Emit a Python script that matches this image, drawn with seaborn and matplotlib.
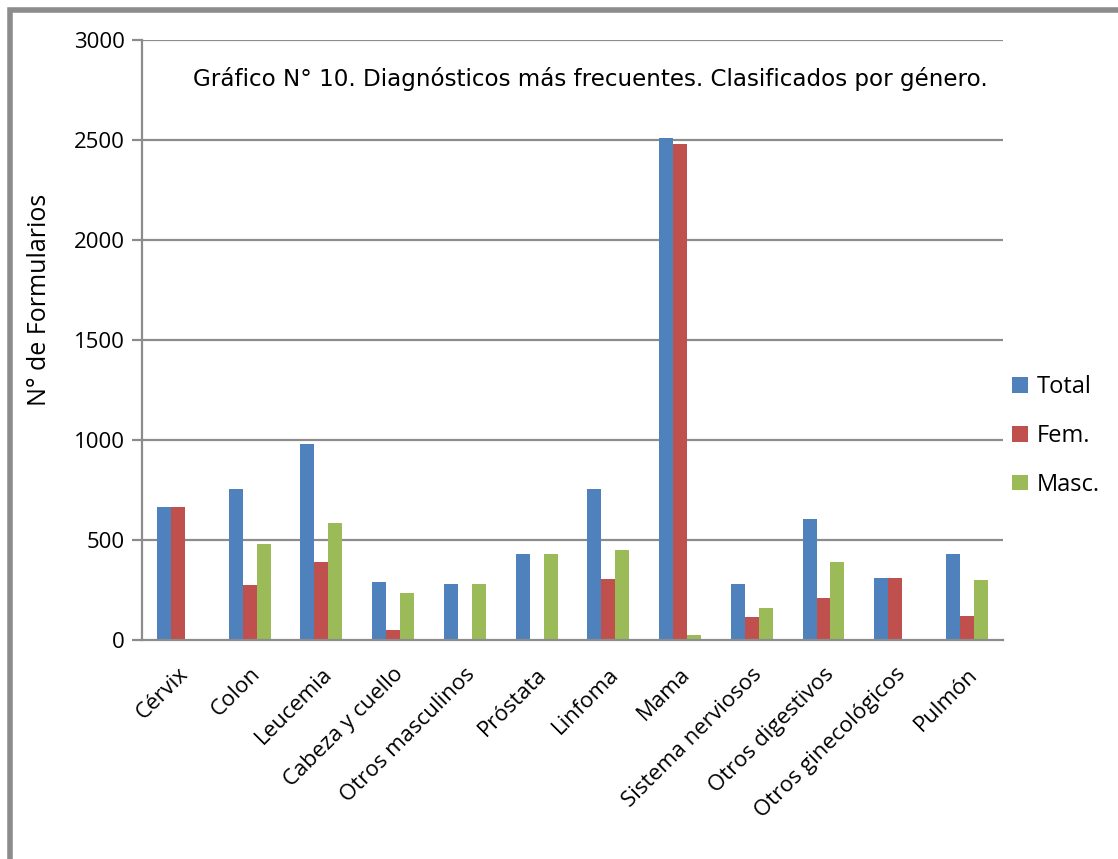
import numpy as np
import pandas as pd
import seaborn as sns
import matplotlib.pyplot as plt
from matplotlib.patches import Rectangle

# datos
categorias = ["Cérvix", "Colon", "Leucemia", "Cabeza y cuello", "Otros masculinos",
              "Próstata", "Linfoma", "Mama", "Sistema nerviosos", "Otros digestivos",
              "Otros ginecológicos", "Pulmón"]
total = [663, 757, 978, 288, 280, 428, 755, 2508, 278, 603, 310, 428]
fem = [663, 275, 392, 48, 0, 0, 303, 2482, 116, 210, 310, 120]
masc = [0, 478, 583, 237, 280, 428, 450, 23, 159, 390, 0, 300]
series = ["Total", "Fem.", "Masc."]
colores = ["#4F81BD", "#C0504D", "#9BBB59"]
y_ticks = [0, 500, 1000, 1500, 2000, 2500, 3000]

df = pd.DataFrame({
    "Diagnostico": categorias * 3,
    "Serie": [series[0]] * 12 + [series[1]] * 12 + [series[2]] * 12,
    "Valor": total + fem + masc,
})

sns.set_style("white")
plt.rcParams['font.family'] = ['Open Sans', 'DejaVu Sans']
plt.rcParams['text.color'] = 'black'
plt.rcParams['xtick.color'] = 'black'
plt.rcParams['ytick.color'] = 'black'
plt.rcParams['axes.labelcolor'] = 'black'

fig = plt.figure(figsize=(11.18, 8.59), dpi=100)
ax = fig.add_axes([0.127, 0.2549, 0.77, 0.6985])

sns.barplot(data=df, x="Diagnostico", y="Valor", hue="Serie", palette=colores,
            width=0.585, gap=0, linewidth=0, saturation=1, ax=ax, legend=True)

ax.set_ylim(0, 3000)
ax.set_xlim(-0.5, 11.5)
ax.set_yticks(y_ticks)
ax.set_yticklabels([str(v) for v in y_ticks], fontsize=16)
for v in y_ticks[1:]:
    ax.axhline(v, color="#8c8c8c", lw=1.6, zorder=0)

# marcas del eje x entre categorias
ax.set_xticks(np.arange(12))
ax.set_xticklabels(categorias, rotation=45, ha="right", rotation_mode="anchor", fontsize=16)
ax.set_xticks(np.arange(-0.5, 12, 1), minor=True)
ax.tick_params(axis="x", which="major", length=0, pad=17)
ax.tick_params(axis="x", which="minor", length=7, width=1.6, color="#8c8c8c", direction="out")
ax.tick_params(axis="y", length=7, width=1.6, color="#8c8c8c", labelcolor="black",
               direction="out", left=True, pad=5.5)

for s in ["top", "right"]:
    ax.spines[s].set_visible(False)
for s in ["left", "bottom"]:
    ax.spines[s].set_color("#8c8c8c")
    ax.spines[s].set_linewidth(1.6)

ax.set_xlabel("")
ax.set_ylabel("N° de Formularios", fontsize=18)
ax.yaxis.set_label_coords(-0.104, 0.567)

ax.text(0.982, 0.955, "Gráfico N° 10. Diagnósticos más frecuentes. Clasificados por género.",
        transform=ax.transAxes, ha="right", va="top", fontsize=16.6, family="DejaVu Sans")

ax.legend(loc="center left", bbox_to_anchor=(1.0, 0.34), borderaxespad=0, frameon=False,
          fontsize=17, handlelength=0.65, handleheight=0.65, handletextpad=0.4,
          labelspacing=1.05)

# marco gris del grafico
fig.add_artist(Rectangle((10 / 1118, -0.2), 1.2, 1.2 - 10 / 859, transform=fig.transFigure,
                         fill=False, edgecolor="#8c8c8c", lw=4))

fig.savefig("out.png", dpi=100)
